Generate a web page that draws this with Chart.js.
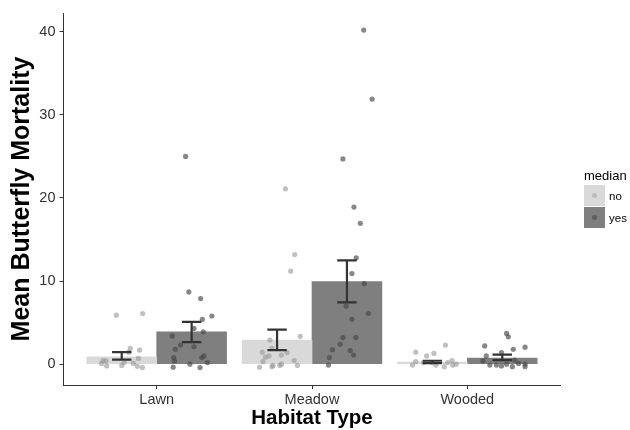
<!DOCTYPE html>
<html>
<head>
<meta charset="utf-8">
<script src="https://cdn.jsdelivr.net/npm/chart.js@4.4.1/dist/chart.umd.min.js"></script>
<style>
  body { margin: 0; background: #fff; }
  #wrap { position: relative; width: 630px; height: 430px; }
  #legend { position: absolute; left: 584px; top: 166px; font-family: "Liberation Sans", Arial, sans-serif; color: #000; }
  #legend .title { font-size: 13px; height: 19px; line-height: 19px; }
  #legend .row { display: flex; align-items: center; height: 21px; margin-bottom: 1px; }
  #legend .key { width: 21px; height: 21px; position: relative; }
  #legend .key i { position: absolute; left: 8px; top: 8px; width: 5px; height: 5px; border-radius: 50%; }
  #legend .lbl { font-size: 11.5px; margin-left: 4px; }
</style>
</head>
<body>
<div id="wrap">
  <canvas id="chart" width="630" height="430"></canvas>
  <div id="legend"></div>
</div>
<script>
// habitat types and the median split
const categories = ['Lawn', 'Meadow', 'Wooded'];
const groups = ['no', 'yes'];

// bar heights (means) and error bar ends
const meanNo  = [0.9, 2.9, 0.25];
const meanYes = [3.9, 9.95, 0.75];
const lowNo   = [0.55, 1.7, 0.12];
const highNo  = [1.45, 4.15, 0.42];
const lowYes  = [2.65, 7.45, 0.5];
const highYes = [5.1, 12.5, 1.15];

// jittered raw observations (x in axis units, y = mortality)
const noX = [0.74, 0.91, 0.83, 0.89, 0.82, 0.645, 0.673, 0.655, 0.678, 0.775, 0.79, 0.85, 0.876, 0.908, 0.882,
  1.829, 1.889, 1.863, 1.924, 1.729, 1.742, 1.68, 1.70, 1.723, 1.803, 1.84, 1.684, 1.662, 1.749, 1.792, 1.803, 1.885, 1.906, 1.742,
  2.859, 2.668, 2.785, 2.738, 2.668, 2.647, 2.718, 2.772, 2.798, 2.852, 2.874, 2.902, 2.906, 2.928];
const noY = [5.9, 6.1, 1.9, 1.7, 1.45, 0.1, 0.4, 0.45, -0.2, -0.15, 0.2, 0.1, -0.25, -0.4, 0.7,
  21.1, 13.2, 11.2, 3.35, 2.9, 1.9, 1.45, 0.85, 1.0, 1.1, 1.4, 0.3, -0.35, -0.15, -0.15, 0.0, 0.45, -0.15, -0.3,
  2.3, 1.45, 1.3, 1.0, 0.3, -0.1, 0.2, 0.2, -0.1, -0.3, 0.2, 0.45, -0.1, 0.0];
const yesX = [1.186, 1.207, 1.283, 1.355, 1.294, 1.3, 1.24, 1.1, 1.153, 1.12, 1.11, 1.114, 1.24, 1.305, 1.29, 1.327, 1.214, 1.106, 1.279,
  2.333, 2.387, 2.199, 2.27, 2.311, 2.285, 2.257, 2.337, 2.22, 2.363, 2.257, 2.199, 2.283, 2.181, 2.132, 2.246, 2.268, 2.112, 2.106,
  3.253, 3.264, 3.112, 3.372, 3.296, 3.22, 3.122, 3.101, 3.145, 3.187, 3.22, 3.253, 3.29, 3.33, 3.372, 3.372, 3.305];
const yesY = [25.0, 8.7, 7.9, 5.8, 5.4, 3.9, 4.3, 3.4, 2.3, 1.8, 0.8, 0.4, 2.1, 1.0, 0.8, 0.2, 0.0, -0.35, -0.4,
  40.2, 31.9, 24.7, 18.9, 16.95, 12.8, 10.9, 9.7, 7.0, 6.1, 5.4, 3.2, 3.2, 2.4, 1.75, 1.65, 1.1, 0.8, -0.1,
  3.7, 3.3, 2.2, 2.05, 1.8, 1.4, 1.0, 0.4, -0.1, -0.1, -0.2, 0.0, -0.3, 0.1, 0.0, -0.3, 0.5];

const yTicks = [0, 10, 20, 30, 40];

const dodge = 0.225;
const colNo = '#d9d9d9', colYes = '#7f7f7f';
const ptNo = 'rgba(150,150,150,0.6)', ptYes = 'rgba(70,70,70,0.65)';
const font = '"Liberation Sans", Arial, sans-serif';

function barData(means, shift) {
  return means.map((m, i) => ({ x: i + 1 + shift, y: m }));
}
function pts(xs, ys) {
  return xs.map((x, i) => ({ x: x, y: ys[i] }));
}

// error bars drawn through the scales
const errorBars = {
  id: 'errorBars',
  afterDatasetsDraw(chart) {
    const { ctx, scales: { x, y } } = chart;
    const sets = [[lowNo, highNo, -dodge], [lowYes, highYes, dodge]];
    ctx.save();
    ctx.strokeStyle = '#333';
    ctx.lineWidth = 2.2;
    sets.forEach(([lo, hi, shift]) => {
      categories.forEach((c, i) => {
        const cx = x.getPixelForValue(i + 1 + shift);
        const half = x.getPixelForValue(i + 1 + shift + 0.0625) - cx;
        const y1 = y.getPixelForValue(lo[i]), y2 = y.getPixelForValue(hi[i]);
        ctx.beginPath();
        ctx.moveTo(cx, y1); ctx.lineTo(cx, y2);
        ctx.moveTo(cx - half, y1); ctx.lineTo(cx + half, y1);
        ctx.moveTo(cx - half, y2); ctx.lineTo(cx + half, y2);
        ctx.stroke();
      });
    });
    ctx.restore();
  }
};

new Chart(document.getElementById('chart'), {
  type: 'bar',
  data: {
    datasets: [
      { type: 'scatter', label: 'no pts', data: pts(noX, noY), backgroundColor: ptNo, borderWidth: 0, pointRadius: 2.6, order: 0 },
      { type: 'scatter', label: 'yes pts', data: pts(yesX, yesY), backgroundColor: ptYes, borderWidth: 0, pointRadius: 2.6, order: 0 },
      { label: groups[0], data: barData(meanNo, -dodge), backgroundColor: colNo, grouped: false, barPercentage: 1, categoryPercentage: 1, order: 1 },
      { label: groups[1], data: barData(meanYes, dodge), backgroundColor: colYes, grouped: false, barPercentage: 1, categoryPercentage: 1, order: 1 }
    ]
  },
  options: {
    responsive: false,
    animation: false,
    layout: { padding: { left: 6, top: 13, right: 69.5, bottom: 0 } },
    plugins: { legend: { display: false }, tooltip: { enabled: false } },
    scales: {
      x: {
        type: 'linear', min: 0.4, max: 3.6, offset: false,
        afterBuildTicks: s => { s.ticks = categories.map((c, i) => ({ value: i + 1 })); },
        afterFit: s => { s.height = 45; },
        grid: { display: true, drawOnChartArea: false, drawTicks: true, tickLength: 4, color: '#333', offset: false },
        border: { display: true, color: '#333', width: 1 },
        ticks: { color: '#333', font: { family: font, size: 14.5 }, padding: 2, maxRotation: 0,
          callback: v => categories[Math.round(v) - 1] },
        title: { display: true, text: 'Habitat Type', color: '#000', font: { family: font, size: 20.5, weight: 'bold' }, padding: { top: 0, bottom: -1 } }
      },
      y: {
        min: -2.5, max: 42.25,
        afterBuildTicks: s => { s.ticks = yTicks.map(v => ({ value: v })); },
        afterFit: s => { s.width = 57.5; },
        grid: { display: true, drawOnChartArea: false, drawTicks: true, tickLength: 4, color: '#333' },
        border: { display: true, color: '#333', width: 1 },
        ticks: { color: '#333', font: { family: font, size: 14.5 }, padding: 4 },
        title: { display: true, text: 'Mean Butterfly Mortality', color: '#000', font: { family: font, size: 25, weight: 'bold' }, padding: { top: 1, bottom: 0 } }
      }
    }
  },
  plugins: [errorBars]
});

// legend
const legend = document.getElementById('legend');
let html = '<div class="title">median</div>';
[[groups[0], colNo, '#bdbdbd'], [groups[1], colYes, '#5f5f5f']].forEach(([g, fill, dot]) => {
  html += '<div class="row"><div class="key" style="background:' + fill + '"><i style="background:' + dot + '"></i></div><span class="lbl">' + g + '</span></div>';
});
legend.innerHTML = html;
</script>
</body>
</html>
